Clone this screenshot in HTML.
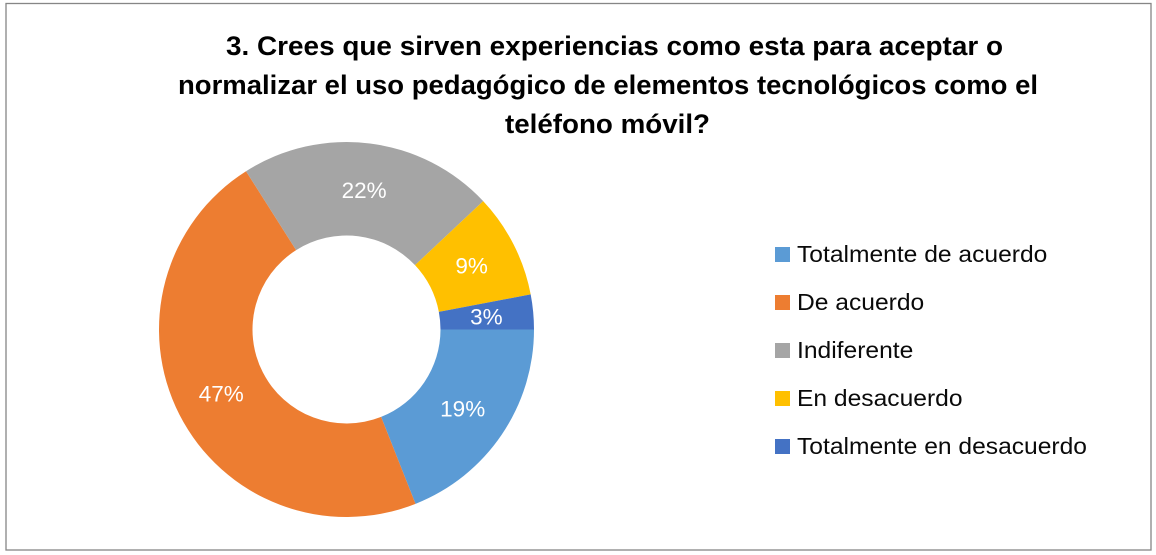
<!DOCTYPE html>
<html lang="es">
<head>
<meta charset="utf-8">
<title>Donut chart</title>
<style>
  html, body { margin: 0; padding: 0; background: #fff; }
  svg { display: block; font-family: "Liberation Sans", sans-serif; }
  .title { font-size: 26.5px; font-weight: bold; fill: #000; }
  .legend-text { font-size: 23px; fill: #0a0a0a; }
  .data-label { font-size: 22.5px; fill: #fff; text-anchor: middle; }
  .c0 { fill: #5b9bd5; }
  .c1 { fill: #ed7d31; }
  .c2 { fill: #a5a5a5; }
  .c3 { fill: #ffc000; }
  .c4 { fill: #4472c4; }
</style>
</head>
<body>
<svg id="chart" width="1156" height="555" viewBox="0 0 1156 555" xmlns="http://www.w3.org/2000/svg">
  <rect x="6" y="3.5" width="1145" height="546.5" fill="#fff" stroke="#868686" stroke-width="1.3"/>
  <g>
    <text class="title" x="226" y="55" textLength="777" lengthAdjust="spacingAndGlyphs">3. Crees que sirven experiencias como esta para aceptar o</text>
    <text class="title" x="178" y="94" textLength="860" lengthAdjust="spacingAndGlyphs">normalizar el uso pedagógico de elementos tecnológicos como el</text>
    <text class="title" x="505" y="133" textLength="205" lengthAdjust="spacingAndGlyphs">teléfono móvil?</text>
  </g>
  <g id="slices"></g>
  <g id="labels"></g>
  <g id="legend"></g>
</svg>
<script>
const categories = ["Totalmente de acuerdo", "De acuerdo", "Indiferente", "En desacuerdo", "Totalmente en desacuerdo"];
const percentValues = [19, 47, 22, 9, 3];

const NS = "http://www.w3.org/2000/svg";
const CX = 346.5, CY = 329.5, R_OUT = 187.5, R_IN = 94, R_LABEL = 140.5;
const LEGEND_X = 775, LEGEND_Y = 247, LEGEND_STEP = 48, SWATCH = 15, LEGEND_TEXT_X = 797, LEGEND_MAX_WIDTH = 290;

const total = percentValues.reduce(function (a, b) { return a + b; }, 0);
function angleOf(cum) { return Math.PI / 2 + (cum / total) * 2 * Math.PI; }
function px(r, a) { return CX + r * Math.sin(a); }
function py(r, a) { return CY - r * Math.cos(a); }

const slicesG = document.getElementById("slices");
const labelsG = document.getElementById("labels");
const legendG = document.getElementById("legend");

let cum = 0;
percentValues.forEach(function (v, i) {
  const a0 = angleOf(cum), a1 = angleOf(cum + v), mid = (a0 + a1) / 2;
  cum += v;
  const large = (a1 - a0) > Math.PI ? 1 : 0;
  const d = "M" + px(R_OUT, a0) + " " + py(R_OUT, a0) +
    "A" + R_OUT + " " + R_OUT + " 0 " + large + " 1 " + px(R_OUT, a1) + " " + py(R_OUT, a1) +
    "L" + px(R_IN, a1) + " " + py(R_IN, a1) +
    "A" + R_IN + " " + R_IN + " 0 " + large + " 0 " + px(R_IN, a0) + " " + py(R_IN, a0) + "Z";
  const path = document.createElementNS(NS, "path");
  path.setAttribute("d", d);
  path.setAttribute("class", "c" + i);
  
  
  slicesG.appendChild(path);

  const label = document.createElementNS(NS, "text");
  label.setAttribute("class", "data-label");
  label.setAttribute("x", px(R_LABEL, mid));
  label.setAttribute("y", py(R_LABEL, mid) + 8);
  label.textContent = v + "%";
  
  
  labelsG.appendChild(label);
});

const legendTexts = [];
categories.forEach(function (name, i) {
  const entry = document.createElementNS(NS, "g");
  
  

  const sw = document.createElementNS(NS, "rect");
  sw.setAttribute("x", LEGEND_X);
  sw.setAttribute("y", LEGEND_Y + i * LEGEND_STEP);
  sw.setAttribute("width", SWATCH);
  sw.setAttribute("height", SWATCH);
  sw.setAttribute("class", "c" + i);
  
  
  entry.appendChild(sw);

  const t = document.createElementNS(NS, "text");
  t.setAttribute("class", "legend-text");
  t.setAttribute("x", LEGEND_TEXT_X);
  t.setAttribute("y", LEGEND_Y + 15 + i * LEGEND_STEP);
  t.textContent = name;
  
  
  entry.appendChild(t);
  legendG.appendChild(entry);
  legendTexts.push(t);
});

const natural = legendTexts.map(function (t) { return t.getComputedTextLength(); });
const fit = LEGEND_MAX_WIDTH / Math.max.apply(null, natural);
legendTexts.forEach(function (t, i) {
  t.setAttribute("textLength", natural[i] * fit);
  t.setAttribute("lengthAdjust", "spacingAndGlyphs");
});
</script>
</body>
</html>
